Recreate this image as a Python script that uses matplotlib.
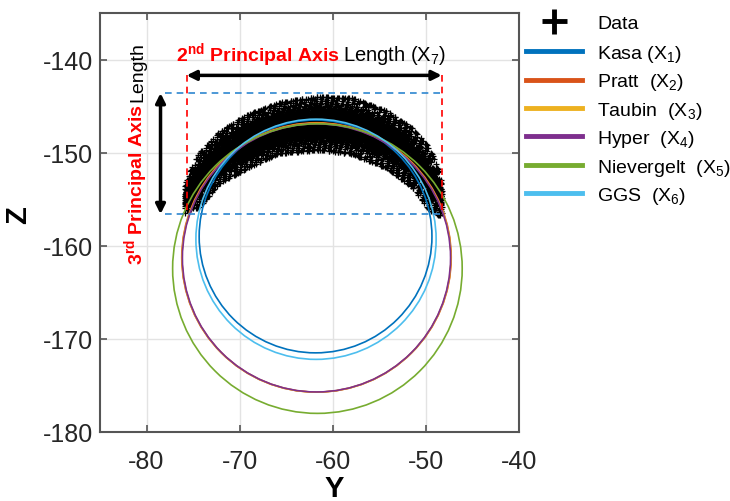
import numpy as np
import matplotlib
matplotlib.use("Agg")
import matplotlib.pyplot as plt
from matplotlib.patches import Circle
from matplotlib.lines import Line2D

plt.rcParams['font.family'] = ['Liberation Sans', 'DejaVu Sans']
plt.rcParams['mathtext.fontset'] = 'custom'
plt.rcParams['mathtext.rm'] = 'Liberation Sans'
plt.rcParams['mathtext.it'] = 'Liberation Sans:italic'
plt.rcParams['mathtext.bf'] = 'Liberation Sans:bold'
plt.rcParams['axes.unicode_minus'] = False

# ---- data ----
methods = ['Kasa (X$_1$)', 'Pratt  (X$_2$)', 'Taubin  (X$_3$)', 'Hyper  (X$_4$)',
           'Nievergelt  (X$_5$)', 'GGS  (X$_6$)']
colors = ['#0072BD', '#D95319', '#EDB120', '#7E2F8E', '#77AC30', '#4DBEEE']
center_y = [-61.85, -61.75, -61.75, -61.75, -61.65, -61.8]
center_z = [-159.0, -161.25, -161.28, -161.3, -162.45, -159.3]
radius = [12.5, 14.47, 14.44, 14.40, 15.55, 12.9]

# data cloud envelope read column by column: upper and lower edge of the dense band
env_y = [-75.9, -75.5, -74.4, -72.2, -69.3, -65.8, -61.5, -57.9, -54.2, -51.4, -49.6, -48.3]
env_top = [-154.0, -152.8, -150.8, -148.5, -146.7, -145.3, -144.7, -144.9, -146.3, -148.2, -150.3, -153.3]
env_bot = [-156.2, -155.6, -155.2, -152.6, -151.0, -149.4, -149.0, -149.4, -150.9, -153.0, -155.3, -156.4]

# principal axis annotations
axis2_y = [-75.7, -48.3]
axis2_z = -141.7
axis3_y = -78.5
axis3_z = [-143.6, -156.6]
box_y = [-78.0, -48.2]

xticks = [-80, -70, -60, -50, -40]
yticks = [-180, -170, -160, -150, -140]


def r2_sequence(n):
    g = 1.32471795724474602596
    k = np.arange(1, n + 1)
    return (0.5 + k / g) % 1.0, (0.5 + k / g ** 2) % 1.0


def cloud_points(n):
    u, v = r2_sequence(n)
    y = env_y[0] + u * (env_y[-1] - env_y[0])
    top = np.interp(y, env_y, env_top)
    bot = np.interp(y, env_y, env_bot)
    mid, half = (top + bot) / 2, (top - bot) / 2
    v = np.clip(v, 0.025, 0.975)
    s = 0.36 * np.log(v / (1 - v))
    return y, mid + s * half


fig = plt.figure(figsize=(7.30, 5.02), dpi=100)
ax = fig.add_axes([100 / 730, 69 / 502, 419 / 730, 419 / 502])

# data
py, pz = cloud_points(5000)
ax.plot(py, pz, '+', color='k', ms=4.0, mew=0.9, zorder=2)

for cy, cz, r, c in zip(center_y, center_z, radius, colors):
    ax.add_patch(Circle((cy, cz), r, fill=False, ec=c, lw=1.2, zorder=3))

# dashed guides
for yv in axis2_y:
    ax.plot([yv, yv], [axis2_z, axis3_z[1]], '--', color='#FF0000', lw=1.2, dashes=(4, 3), zorder=4)
for zv in axis3_z:
    ax.plot(box_y, [zv, zv], '--', color='#2E86D0', lw=1.2, dashes=(4, 3), zorder=4)

ax.annotate('', xy=(axis2_y[1], axis2_z), xytext=(axis2_y[0], axis2_z),
            arrowprops=dict(arrowstyle='<|-|>', lw=2.5, color='k', mutation_scale=14,
                            shrinkA=0, shrinkB=0), zorder=5)
ax.annotate('', xy=(axis3_y, axis3_z[0]), xytext=(axis3_y, axis3_z[1]),
            arrowprops=dict(arrowstyle='<|-|>', lw=2.5, color='k', mutation_scale=14,
                            shrinkA=0, shrinkB=0), zorder=5)

ax.set_xlim(-85, -40)
ax.set_ylim(-180, -135)
ax.set_xticks(xticks)
ax.set_yticks(yticks)
ax.grid(True, color='#E3E3E3', lw=1.0)
ax.set_axisbelow(True)
ax.tick_params(direction='in', length=5, width=1.2, colors='#555555', labelcolor='#262626',
               labelsize=18, top=True, right=True)
ax.tick_params(axis='x', pad=12)
ax.tick_params(axis='y', pad=5)
for s in ax.spines.values():
    s.set_color('#555555')
    s.set_linewidth(1.5)
ax.set_xlabel('Y', fontsize=21, fontweight='bold')
ax.set_ylabel('Z', fontsize=21, fontweight='bold')
ax.xaxis.set_label_coords((334 - 100) / 419, (433 - 475) / 419)
ax.yaxis.set_label_coords((32 - 100) / 419, (433 - 215) / 419)

# text annotations
fig.canvas.draw()
renderer = fig.canvas.get_renderer()
t1 = ax.text(-76.8, -140.1, r'$\mathbf{2^{nd}}$ Principal Axis', color='#FF0000', fontsize=14,
             fontweight='bold', ha='left', va='baseline', zorder=6)
bb = t1.get_window_extent(renderer)
x0, y0 = ax.transData.transform((-76.8, -140.1))
px, pyy = ax.transData.inverted().transform((bb.x1 + 3, y0))
ax.text(px, pyy, r'Length (X$_7$)', color='k', fontsize=14.5, ha='left', va='baseline', zorder=6)

t2 = ax.text(-80.43, -162.0, r'$\mathbf{3^{rd}}$ Principal Axis', color='#FF0000', fontsize=14,
             fontweight='bold', rotation=90, rotation_mode='anchor', ha='left', va='baseline', zorder=6)
bb2 = t2.get_window_extent(renderer)
x1, y1 = ax.transData.transform((-80.43, -162.0))
qx, qy = ax.transData.inverted().transform((x1, bb2.y1 + 3))
ax.text(qx, qy, 'Length', color='k', fontsize=14, rotation=90, rotation_mode='anchor',
        ha='left', va='baseline', zorder=6)

# legends: data marker row, then the fitted circles
leg1 = ax.legend([Line2D([], [], ls='none', marker='+', color='k', ms=18, mew=3.5)], ['Data'],
                 loc='center left', bbox_to_anchor=(526 / 730, 1 - 24 / 502),
                 bbox_transform=fig.transFigure, frameon=False, fontsize=14, handlelength=2.9,
                 handletextpad=0.75, borderpad=0, borderaxespad=0)
ax.add_artist(leg1)
ax.legend([Line2D([], [], color=c, lw=3.5) for c in colors], methods, loc='upper left',
          bbox_to_anchor=(526 / 730, 1 - 44 / 502), bbox_transform=fig.transFigure,
          frameon=False, fontsize=14, handlelength=2.9, handletextpad=0.75,
          labelspacing=0.38, borderpad=0, borderaxespad=0)

fig.savefig('out.png', dpi=100)
